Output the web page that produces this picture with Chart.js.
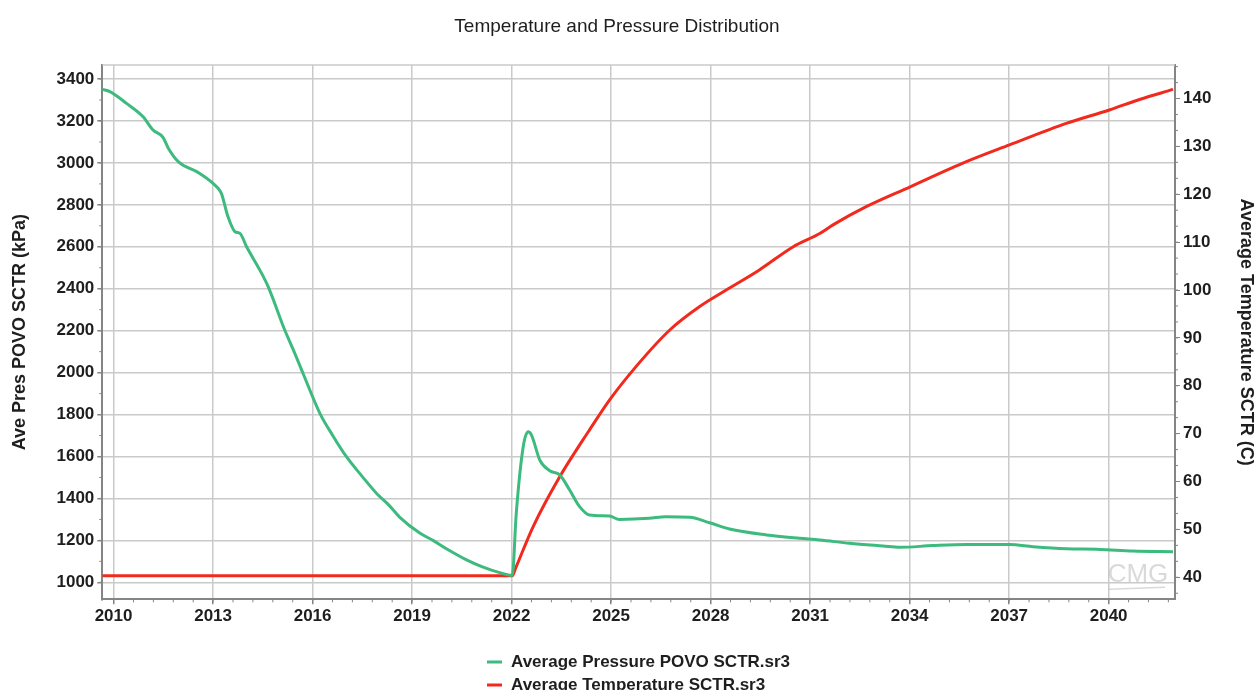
<!DOCTYPE html>
<html>
<head>
<meta charset="utf-8">
<title>Temperature and Pressure Distribution</title>
<script src="https://cdn.jsdelivr.net/npm/chart.js@4.4.1/dist/chart.umd.min.js"></script>
<style>
  html, body { margin: 0; padding: 0; background: #ffffff; }
  canvas { display: block; }
</style>
</head>
<body>
<canvas id="chart" width="1255" height="690"></canvas>
<script>
// ===== Data =====
const pressureYears = [
    2009.66, 2009.89, 2010.39, 2010.89, 2011.19, 2011.49, 2011.65, 2011.95, 2012.6, 2013.15,
    2013.25, 2013.45, 2013.66, 2013.81, 2014.01, 2014.41, 2014.66, 2015.16, 2015.41, 2015.71,
    2016.22, 2016.62, 2017.02, 2017.5, 2017.93, 2018.3, 2018.63, 2019.23, 2019.63, 2020.1,
    2020.64, 2021.1, 2021.64, 2022.02, 2022.14, 2022.35, 2022.5, 2022.6, 2022.85, 2023.15,
    2023.45, 2023.75, 2024.05, 2024.35, 2024.95, 2025.25, 2026.14, 2026.65, 2027.37, 2027.97,
    2028.57, 2029.68, 2030.68, 2031.29, 2032.19, 2033.2, 2033.7, 2034.7, 2035.71, 2037.01,
    2037.72, 2038.72, 2039.73, 2040.73, 2041.94
];
const pressureValues = [
    3351, 3340, 3284, 3220, 3157, 3122, 3070, 3006, 2950, 2879,
    2855, 2743, 2672, 2664, 2600, 2489, 2410, 2203, 2112, 1997,
    1806, 1697, 1599, 1504, 1424, 1368, 1310, 1235, 1200, 1154,
    1107, 1075, 1046, 1033, 1329, 1647, 1718, 1702, 1583, 1532,
    1512, 1440, 1361, 1321, 1316, 1300, 1305, 1313, 1310, 1284,
    1254, 1226, 1210, 1202, 1186, 1173, 1167, 1175, 1180, 1180,
    1170, 1160, 1157, 1149, 1146
];

const tempYears = [
    2009.66, 2022.02, 2022.12, 2022.65, 2023.45, 2024.15, 2024.35, 2024.95, 2025.75, 2026.76,
    2027.66, 2028.47, 2029.47, 2030.48, 2031.29, 2031.69, 2032.69, 2034.0, 2035.71, 2037.01,
    2038.72, 2040.02, 2040.93, 2041.94
];
const tempValues = [
    40.3, 40.3, 41.9, 50.6, 61.0, 68.7, 70.8, 77.0, 84.0, 91.6,
    96.5, 100.0, 104.2, 109.0, 111.8, 113.6, 117.4, 121.5, 126.8, 130.3,
    134.8, 137.6, 139.8, 141.9
];

const yearTicks = [2010, 2013, 2016, 2019, 2022, 2025, 2028, 2031, 2034, 2037, 2040];
const pressureTicks = [1000, 1200, 1400, 1600, 1800, 2000, 2200, 2400, 2600, 2800, 3000, 3200, 3400];
const tempTicks = [40, 50, 60, 70, 80, 90, 100, 110, 120, 130, 140];

const FONT = "'Liberation Sans', Arial, sans-serif";
const GRID = "#cacaca";
const AXIS = "#858585";
const TEXT = "#1e1e1e";

// ===== Plugins =====
// frame, title, watermark and legend drawn straight on the canvas
const decorations = {
    id: "decorations",
    beforeDatasetsDraw(chart) {
        const { ctx, chartArea: a } = chart;
        ctx.save();
        ctx.strokeStyle = GRID;
        ctx.lineWidth = 1.5;
        ctx.beginPath();
        ctx.moveTo(a.left, a.top);
        ctx.lineTo(a.right, a.top);
        ctx.stroke();

        // CMG mark in the lower right corner
        ctx.fillStyle = "rgba(170,170,170,0.45)";
        ctx.font = "26px " + FONT;
        ctx.textAlign = "center";
        ctx.textBaseline = "middle";
        ctx.fillText("CMG", a.right - 37, a.bottom - 24);
        ctx.strokeStyle = "rgba(170,170,170,0.45)";
        ctx.lineWidth = 1.5;
        ctx.beginPath();
        ctx.moveTo(a.right - 66, a.bottom - 10);
        ctx.lineTo(a.right - 10, a.bottom - 12);
        ctx.stroke();
        ctx.restore();
    },
    afterDraw(chart) {
        const { ctx } = chart;
        ctx.save();
        ctx.fillStyle = TEXT;
        ctx.font = "19px " + FONT;
        ctx.textAlign = "center";
        ctx.textBaseline = "middle";
        ctx.fillText("Temperature and Pressure Distribution", 617, 27);

        // legend, one entry per row
        ctx.font = "bold 17px " + FONT;
        ctx.textAlign = "left";
        chart.data.datasets.forEach((ds, i) => {
            const y = 662 + i * 23;
            ctx.strokeStyle = ds.borderColor;
            ctx.lineWidth = 3;
            ctx.beginPath();
            ctx.moveTo(487, y);
            ctx.lineTo(502, y);
            ctx.stroke();
            ctx.fillText(ds.label, 511, y);
        });
        ctx.restore();
    }
};

// small tick marks between the labelled ones
const minorTicks = {
    id: "minorTicks",
    afterDraw(chart) {
        const { ctx, chartArea: a, scales } = chart;
        ctx.save();
        ctx.strokeStyle = AXIS;
        ctx.lineWidth = 1;
        ctx.beginPath();
        for (let v = 2010; v <= 2042; v += 0.6) {
            const x = scales.x.getPixelForValue(v);
            if (x < a.left || x > a.right) continue;
            ctx.moveTo(x, a.bottom);
            ctx.lineTo(x, a.bottom + 3);
        }
        for (let v = 1000; v <= 3450; v += 100) {
            const y = scales.y.getPixelForValue(v);
            ctx.moveTo(a.left - 3, y);
            ctx.lineTo(a.left, y);
        }
        for (let v = 40 - 10 / 3; v <= 147; v += 10 / 3) {
            const y = scales.y1.getPixelForValue(v);
            if (y < a.top || y > a.bottom) continue;
            ctx.moveTo(a.right, y);
            ctx.lineTo(a.right + 3, y);
        }
        ctx.stroke();
        ctx.restore();
    }
};

// ===== Chart =====
const tickFont = { family: FONT, size: 17, weight: "bold" };
const titleFont = { family: FONT, size: 18, weight: "bold", lineHeight: 1 };

new Chart(document.getElementById("chart"), {
    type: "line",
    data: {
        datasets: [
            {
                label: "Average Pressure POVO SCTR.sr3",
                data: pressureYears.map((x, i) => ({ x, y: pressureValues[i] })),
                borderColor: "#3dba7e",
                borderWidth: 3,
                pointRadius: 0,
                cubicInterpolationMode: "monotone",
                yAxisID: "y"
            },
            {
                label: "Average Temperature SCTR.sr3",
                data: tempYears.map((x, i) => ({ x, y: tempValues[i] })),
                borderColor: "#f2291d",
                borderWidth: 3,
                pointRadius: 0,
                cubicInterpolationMode: "monotone",
                yAxisID: "y1"
            }
        ]
    },
    options: {
        responsive: false,
        animation: false,
        layout: { padding: { top: 65, bottom: 60, left: 0, right: 0 } },
        plugins: {
            legend: { display: false },
            title: { display: false },
            tooltip: { enabled: false }
        },
        scales: {
            x: {
                type: "linear",
                min: 2009.66,
                max: 2042,
                afterBuildTicks: (scale) => { scale.ticks = yearTicks.map(v => ({ value: v })); },
                afterFit: (scale) => { scale.height = 30.7; },
                ticks: { font: tickFont, color: TEXT, padding: 2, callback: (v) => String(v) },
                grid: { color: GRID, lineWidth: 1.5, tickColor: AXIS, tickLength: 5 },
                border: { color: AXIS, width: 2 }
            },
            y: {
                position: "left",
                min: 919,
                max: 3467,
                afterBuildTicks: (scale) => { scale.ticks = pressureTicks.map(v => ({ value: v })); },
                afterFit: (scale) => { scale.width = 102.3; },
                ticks: { font: tickFont, color: TEXT, padding: 3, callback: (v) => String(v) },
                grid: { color: GRID, lineWidth: 1.5, tickColor: AXIS, tickLength: 5 },
                border: { color: AXIS, width: 2 },
                title: {
                    display: true,
                    text: "Ave Pres POVO SCTR (kPa)",
                    color: TEXT,
                    font: titleFont,
                    padding: { top: 11, bottom: 0 }
                }
            },
            y1: {
                position: "right",
                min: 35.4,
                max: 147,
                afterBuildTicks: (scale) => { scale.ticks = tempTicks.map(v => ({ value: v })); },
                afterFit: (scale) => { scale.width = 80; },
                ticks: { font: tickFont, color: TEXT, padding: 3, callback: (v) => String(v) },
                grid: { drawOnChartArea: false, tickColor: AXIS, tickLength: 5 },
                border: { color: AXIS, width: 2 },
                title: {
                    display: true,
                    text: "Average Temperature SCTR (C)",
                    color: TEXT,
                    font: titleFont,
                    padding: { top: 0, bottom: 0 }
                }
            }
        }
    },
    plugins: [decorations, minorTicks]
});
</script>
</body>
</html>
